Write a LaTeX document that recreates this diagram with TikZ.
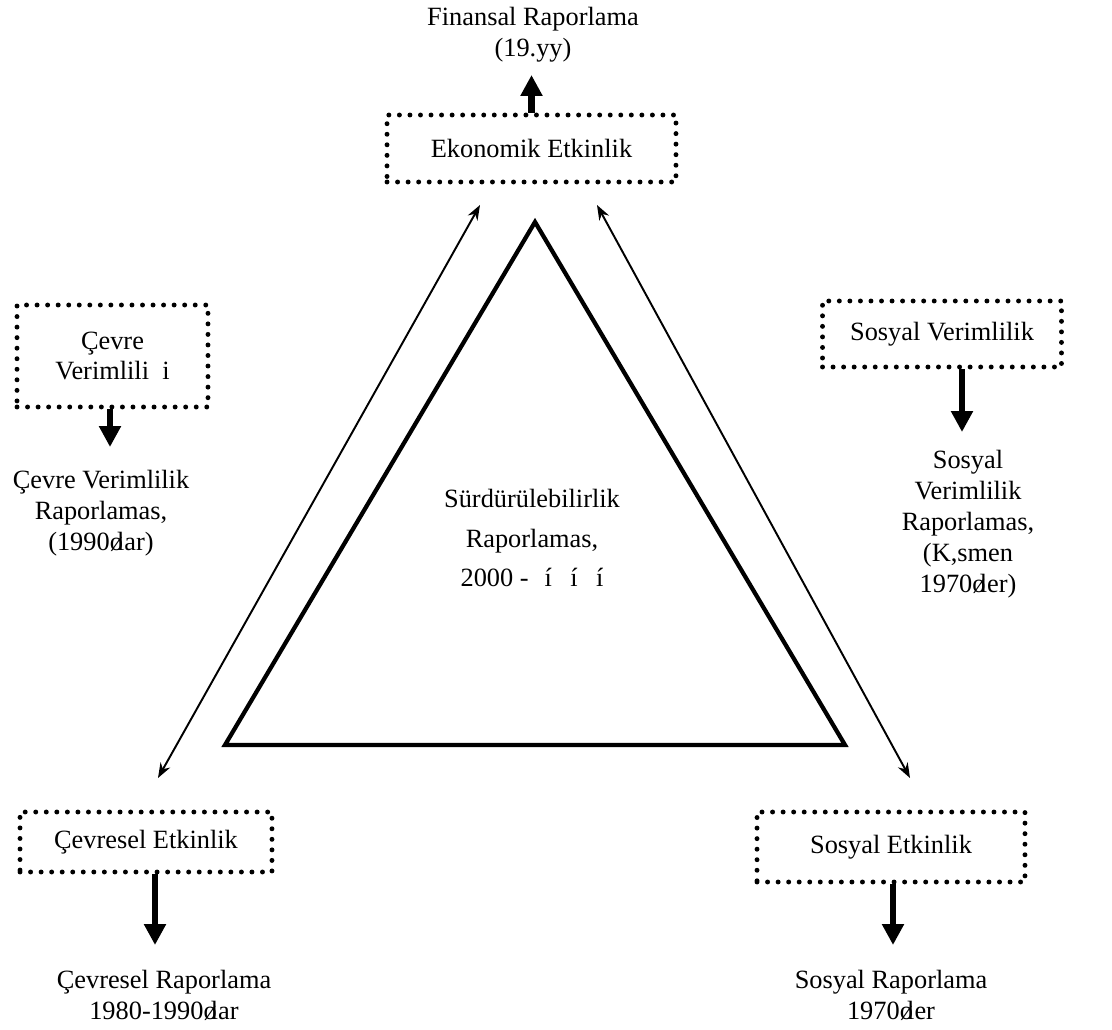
\documentclass[tikz,border=0pt]{standalone}
\usepackage{fontspec}
\setmainfont{Liberation Serif}
\usetikzlibrary{arrows.meta}
\begin{document}
\begin{tikzpicture}[x=0.02cm,y=-0.02cm,
  txt/.style={font=\fontsize{15}{17.6}\selectfont, align=center, inner sep=0pt},
  dotbox/.style={draw, line width=2.8pt, dash pattern=on 0pt off 6.0pt, line cap=round,
    inner sep=0pt, font=\fontsize{15}{17.6}\selectfont, align=center},
  blockarrow/.style={line width=0.13cm, -{Triangle[width=0.42cm,length=0.42cm]}},
  twoway/.style={line width=1.1pt,
    {Stealth[length=0.3cm,width=0.22cm]}-{Stealth[length=0.3cm,width=0.22cm]}},
  ]
\useasboundingbox (0,0) rectangle (1112,1030);

% central triangle
\draw[line width=0.085cm, line join=miter] (535,222) -- (845,745) -- (225,745) -- cycle;
\node[txt, font=\fontsize{15}{22.7}\selectfont] (mid) at (532,538)
  {Sürdürülebilirlik\\Raporlamas,\\2000 -\hspace{0.6em}í\hspace{0.7em}í\hspace{0.7em}í};

% dotted boxes
\node[dotbox, minimum width=5.78cm, minimum height=1.34cm] (eko) at (531.5,148.5) {Ekonomik Etkinlik};
\node[dotbox, minimum width=3.82cm, minimum height=2.04cm] (cvv) at (112.5,356) {Çevre\\Verimlili~~i};
\node[dotbox, minimum width=4.78cm, minimum height=1.32cm] (svv) at (942,334) {Sosyal Verimlilik};
\node[dotbox, minimum width=5.04cm, minimum height=1.20cm] (cev) at (146,842) {Çevresel Etkinlik};
\node[dotbox, minimum width=5.36cm, minimum height=1.40cm] (sos) at (891,847) {Sosyal Etkinlik};

% reporting labels
\node[txt] (fin) at (533,35) {Finansal Raporlama\\(19.yy)};
\node[txt] (cvr) at (101,513.5) {Çevre Verimlilik\\Raporlamas,\\(1990ø\kern-.22em lar)};
\node[txt] (svr) at (968,524) {Sosyal\\Verimlilik\\Raporlamas,\\(K,smen\\1970ø\kern-.22em ler)};
\node[txt] (cevr) at (164,995) {Çevresel Raporlama\\1980-1990ø\kern-.22em lar};
\node[txt] (sosr) at (891,995) {Sosyal Raporlama\\1970ø\kern-.22em ler};

% arrow tips of the block arrows
\coordinate (finTip) at (531.5,75);
\coordinate (cvvTip) at (110,447);
\coordinate (svvTip) at (962,432);
\coordinate (cevTip) at (155,945);
\coordinate (sosTip) at (893,945);

\draw[blockarrow] (eko.north) -- (finTip);
\draw[blockarrow] (cvv.south -| cvvTip) -- (cvvTip);
\draw[blockarrow] (svv.south -| svvTip) -- (svvTip);
\draw[blockarrow] (cev.south -| cevTip) -- (cevTip);
\draw[blockarrow] (sos.south -| sosTip) -- (sosTip);

% two-way links along the triangle sides
\coordinate (la1) at (480,205);
\coordinate (la2) at (158,778);
\coordinate (ra1) at (597,205);
\coordinate (ra2) at (910,778);
\draw[twoway] (la1) -- (la2);
\draw[twoway] (ra1) -- (ra2);
\end{tikzpicture}
\end{document}
